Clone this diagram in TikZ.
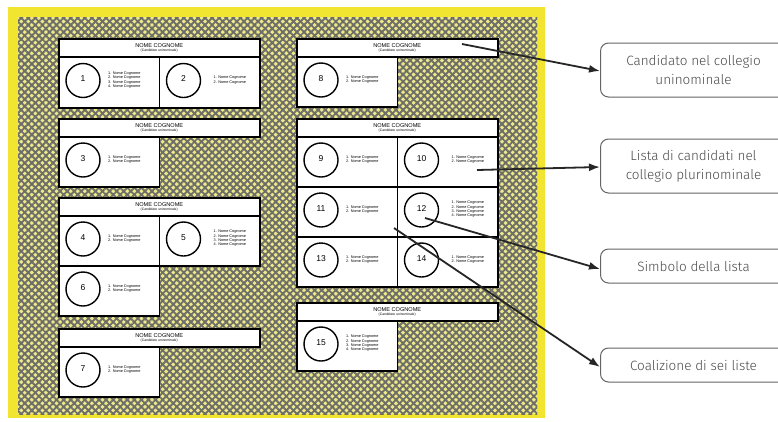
\documentclass[tikz,border=0pt]{standalone}
\usepackage{fontspec}
\setmainfont{Liberation Sans}
\newfontfamily\labfont{Fira Sans Light}
\usetikzlibrary{arrows.meta,patterns.meta}
\definecolor{frameyel}{HTML}{F2E531}
\definecolor{hatchbg}{HTML}{EEEA8C}
\definecolor{hatchln}{HTML}{6E6E68}
\definecolor{labgray}{HTML}{4A4A4A}
\tikzset{
 hdr/.style={draw=black, line width=1.5pt, fill=white, minimum width=201pt, minimum height=18pt, anchor=north west, inner sep=0pt, align=center, font=\fontsize{5.6}{4.6}\selectfont},
 cellbox/.style={draw=black, line width=1.5pt, fill=white, minimum width=100.5pt, minimum height=#1, anchor=north west, inner sep=0pt},
 sym/.style={circle, draw=black, line width=1.4pt, minimum size=34pt, inner sep=0pt, font=\fontsize{8.5}{8.5}\selectfont},
 lst/.style={anchor=west, align=left, font=\fontsize{3.8}{4.3}\selectfont, inner sep=0pt},
 lab/.style={draw=labgray!85, line width=1pt, rounded corners=8pt, minimum width=186pt, anchor=west, align=center, font=\labfont\fontsize{13.5}{19}\selectfont, text=labgray},
 conn/.style={draw=black!85, line width=1.8pt, -{Latex[length=11pt,width=8pt]}},
}
\newcommand\bhead[3]{\node[hdr] (#1) at (#2,#3) {NOME COGNOME\\{\fontsize{3.4}{3.6}\selectfont (Candidato uninominale)}};}
% name, x, y, h, number, list, list offset
\newcommand\bcell[7]{%
 \node[cellbox=#4] (#1) at (#2,#3) {};
 \node[sym] (#1s) at ({#2+25},{#3+#4/2-1}) {\raisebox{3pt}{#5}};
 \node[lst] (#1l) at ({#2+#7},{#3+#4/2-1.5}) {#6};}
\newcommand\twoitems{1. Nome Cognome\\2. Nome Cognome}
\newcommand\fouritems{1. Nome Cognome\\2. Nome Cognome\\3. Nome Cognome\\4. Nome Cognome}
\begin{document}
\begin{tikzpicture}[x=1pt,y=-1pt]
\useasboundingbox (0,0) rectangle (778,421);
\clip (0,0) rectangle (778,421);
\fill[white] (0,0) rectangle (778,421);
% frame and hatched field
\fill[frameyel] (8,7) rectangle (545,418);
\fill[hatchbg] (18,17) rectangle (537,414);
\fill[pattern={Lines[angle=45,distance=5pt,line width=1.9pt]}, pattern color=hatchln] (18,17) rectangle (537,414);
\fill[pattern={Lines[angle=-45,distance=5pt,line width=1.9pt]}, pattern color=hatchln] (18,17) rectangle (537,414);
% left column
\bhead{hA}{58}{38}
\bcell{c1}{58}{56}{51}{1}{\fouritems}{50}
\bcell{c2}{158.5}{56}{51}{2}{\twoitems}{55}
\bhead{hB}{58}{118}
\bcell{c3}{58}{136}{50}{3}{\twoitems}{50}
\bhead{hC}{58}{197}
\bcell{c4}{58}{215}{50}{4}{\twoitems}{50}
\bcell{c5}{158.5}{215}{50}{5}{\fouritems}{55}
\bcell{c6}{58}{265}{50}{6}{\twoitems}{50}
\bhead{hD}{58}{328}
\bcell{c7}{58}{346}{50}{7}{\twoitems}{50}
% right column
\bhead{hE}{296}{38}
\bcell{c8}{296}{56}{50}{8}{\twoitems}{50}
\bhead{hF}{296}{118}
\bcell{c9}{296}{136}{50}{9}{\twoitems}{50}
\bcell{c10}{396.5}{136}{50}{10}{\twoitems}{55}
\bcell{c11}{296}{186}{50}{11}{\twoitems}{50}
\bcell{c12}{396.5}{186}{50}{12}{\fouritems}{55}
\bcell{c13}{296}{236}{50}{13}{\twoitems}{50}
\bcell{c14}{396.5}{236}{50}{14}{\twoitems}{55}
\bhead{hG}{296}{302}
\bcell{c15}{296}{320}{50}{15}{\fouritems}{50}
% labels
\node[lab, minimum height=54pt] (l1) at (600,70) {Candidato nel collegio\\uninominale};
\node[lab, minimum height=54pt] (l2) at (600,166) {Lista di candidati nel\\collegio plurinominale};
\node[lab, minimum height=34pt] (l3) at (600,266) {Simbolo della lista};
\node[lab, minimum height=34pt] (l4) at (600,365) {Coalizione di sei liste};
% connectors
\coordinate (p1) at (462,44);
\coordinate (p2) at (477,170);
\coordinate (p3) at (425,218);
\coordinate (p4) at (394,228);
\draw[conn] (p1) -- ([yshift=-1pt]l1.west);
\draw[conn] (p2) -- ([yshift=-1pt]l2.west);
\draw[conn] (p3) -- ([yshift=-3pt]l3.west);
\draw[conn] (p4) -- ([yshift=-2pt]l4.west);
\end{tikzpicture}
\end{document}
